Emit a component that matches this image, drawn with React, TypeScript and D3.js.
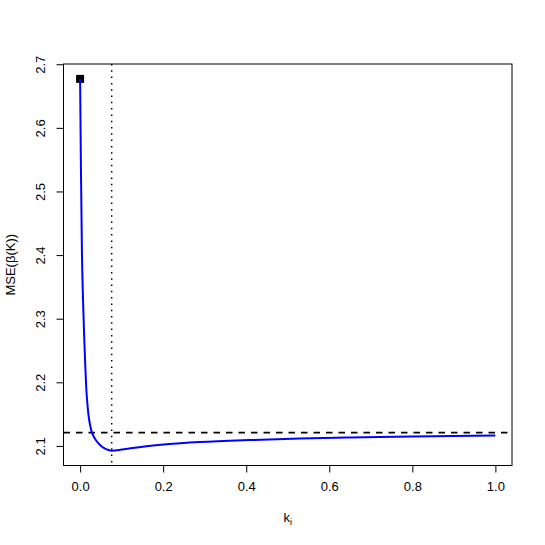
import React, { useRef, useEffect } from 'react';
import * as d3 from 'd3';

// ridge parameter k and the estimated MSE
const kValues = [0, 0.002, 0.0043, 0.007, 0.0101, 0.0125, 0.0149, 0.0177, 0.0205, 0.024, 0.0277, 0.033, 0.0386, 0.048, 0.06, 0.068, 0.076, 0.1, 0.1265, 0.16, 0.2077, 0.288, 0.408, 0.529, 0.65, 0.8, 1.0];
const mseValues = [2.677, 2.535, 2.408, 2.33, 2.267, 2.225, 2.19, 2.165, 2.147, 2.133, 2.1225, 2.1145, 2.1085, 2.1015, 2.0958, 2.0936, 2.0926, 2.0942, 2.0968, 2.0995, 2.1025, 2.106, 2.1092, 2.1115, 2.1133, 2.1149, 2.1165];
const xTicks = [0, 0.2, 0.4, 0.6, 0.8, 1.0];
const yTicks = [2.1, 2.2, 2.3, 2.4, 2.5, 2.6, 2.7];
const kOptimal = 0.076;
const mseOls = 2.121;

const App = () => {
  const svgRef = useRef<SVGSVGElement>(null);

  useEffect(() => {
    const W = 545;
    const H = 545;
    const margin = { top: 64, right: 33, bottom: 79.5, left: 63.5 };
    const font = '"Liberation Sans", Arial, Helvetica, sans-serif';

    const svg = d3.select(svgRef.current)
      .attr('width', W)
      .attr('height', H)
      .style('background', 'white');

    svg.selectAll('*').remove();

    const xMin = d3.min(kValues)!;
    const xMax = d3.max(kValues)!;
    const yMin = d3.min(mseValues)!;
    const yMax = d3.max(mseValues)!;
    const xPad = (xMax - xMin) * 0.04;
    const yPad = (yMax - yMin) * 0.04;

    const x = d3.scaleLinear()
      .domain([xMin - xPad, xMax + xPad])
      .range([margin.left, W - margin.right]);

    const y = d3.scaleLinear()
      .domain([yMin - yPad, yMax + yPad])
      .range([H - margin.bottom, margin.top]);

    const pts = kValues.map((k, i) => [k, mseValues[i]] as [number, number]);

    // reference lines
    svg.append('line')
      .attr('x1', x(kOptimal)).attr('x2', x(kOptimal))
      .attr('y1', margin.top).attr('y2', H - margin.bottom)
      .attr('stroke', 'black')
      .attr('stroke-width', 1.5)
      .attr('stroke-dasharray', '1.5,4.8');

    svg.append('line')
      .attr('x1', margin.left).attr('x2', W - margin.right)
      .attr('y1', y(mseOls)).attr('y2', y(mseOls))
      .attr('stroke', 'black')
      .attr('stroke-width', 1.8)
      .attr('stroke-dasharray', '6.5,6');

    // starting point marker
    svg.append('rect')
      .attr('x', x(kValues[0]) - 4)
      .attr('y', y(mseValues[0]) - 4)
      .attr('width', 8)
      .attr('height', 8)
      .attr('fill', 'black');

    const line = d3.line<[number, number]>()
      .x(d => x(d[0]))
      .y(d => y(d[1]))
      .curve(d3.curveMonotoneX);

    svg.append('path')
      .datum(pts)
      .attr('d', line)
      .attr('fill', 'none')
      .attr('stroke', '#0000ff')
      .attr('stroke-width', 2);

    // box
    svg.append('rect')
      .attr('x', margin.left)
      .attr('y', margin.top)
      .attr('width', W - margin.left - margin.right)
      .attr('height', H - margin.top - margin.bottom)
      .attr('fill', 'none')
      .attr('stroke', 'black')
      .attr('stroke-width', 1);

    // x axis
    const xAxis = svg.append('g')
      .attr('transform', `translate(0, ${H - margin.bottom})`)
      .call(d3.axisBottom(x).tickValues(xTicks).tickSize(7).tickPadding(9).tickFormat(d3.format('.1f')));
    xAxis.select('.domain').attr('d', `M${x(xTicks[0])},0H${x(xTicks[xTicks.length - 1])}`);
    xAxis.selectAll('text').attr('font-size', 13).attr('font-family', font).attr('fill', 'black');

    // y axis, labels rotated like R's default las=0
    const yAxis = svg.append('g')
      .attr('transform', `translate(${margin.left}, 0)`)
      .call(d3.axisLeft(y).tickValues(yTicks).tickSize(7).tickFormat(d3.format('.1f')));
    yAxis.select('.domain').attr('d', `M0,${y(yTicks[0])}V${y(yTicks[yTicks.length - 1])}`);
    yAxis.selectAll('text')
      .attr('x', null)
      .attr('dy', null)
      .attr('text-anchor', 'middle')
      .attr('transform', 'translate(-18.5,0) rotate(-90)')
      .attr('font-size', 13)
      .attr('font-family', font)
      .attr('fill', 'black');

    // axis titles
    const xt = svg.append('text')
      .attr('x', (margin.left + W - margin.right) / 2)
      .attr('y', 522)
      .attr('text-anchor', 'middle')
      .attr('font-size', 13)
      .attr('font-family', font);
    xt.append('tspan').text('k');
    xt.append('tspan').attr('font-size', 9).attr('dy', 3).text('i');

    svg.append('text')
      .attr('transform', `translate(15, ${(margin.top + H - margin.bottom) / 2}) rotate(-90)`)
      .attr('text-anchor', 'middle')
      .attr('font-size', 13)
      .attr('font-family', font)
      .text('MSE(β(K))');
  }, []);

  return <svg ref={svgRef} style={{ position: 'absolute', left: 0, top: 0 }}></svg>;
};

export default App;
